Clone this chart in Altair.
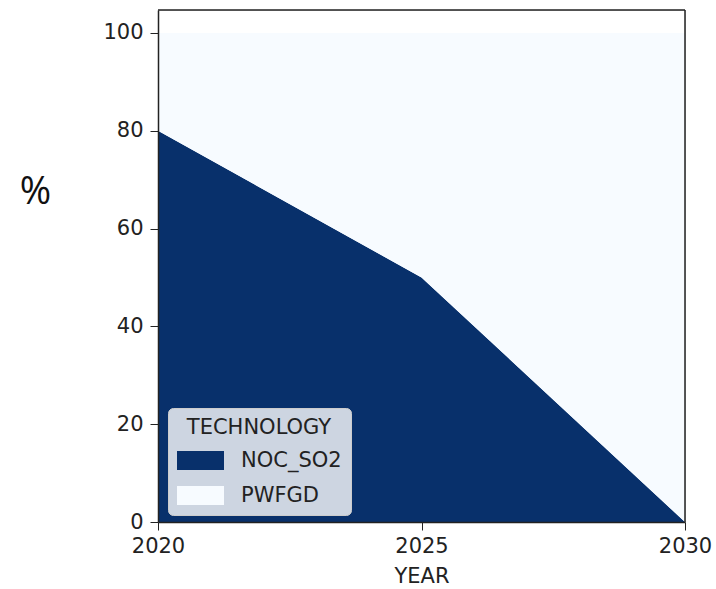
import altair as alt
import pandas as pd

# Share of each SO2 control technology by year
years = [2020, 2025, 2030]
noc_so2 = [80, 50, 0]
pwfgd = [20, 50, 100]
technologies = ["NOC_SO2", "PWFGD"]
colors = ["#08306b", "#f7fbff"]

rows = []
for i, y in enumerate(years):
    rows.append({"YEAR": y, "TECHNOLOGY": "NOC_SO2", "share": noc_so2[i], "ord": 0})
    rows.append({"YEAR": y, "TECHNOLOGY": "PWFGD", "share": pwfgd[i], "ord": 1})
df = pd.DataFrame(rows)

font = "DejaVu Sans"

area = alt.Chart(df).mark_area(interpolate="linear").encode(
    x=alt.X(
        "YEAR:Q",
        scale=alt.Scale(domain=[2020, 2030], nice=False, zero=False),
        axis=alt.Axis(
            values=[2020, 2025, 2030], format="d", title="YEAR",
            labelFontSize=21, titleFontSize=21, titleFontWeight="normal",
            labelFont=font, titleFont=font, labelColor="#222", titleColor="#222",
            tickSize=8, tickColor="#222", domainColor="#222", domainWidth=1.5,
            labelPadding=5, titlePadding=9, grid=False, zindex=1,
            labelFlush=False, labelOverlap=False,
        ),
    ),
    y=alt.Y(
        "share:Q",
        stack="zero",
        scale=alt.Scale(domain=[0, 104.7], nice=False),
        axis=alt.Axis(
            values=[0, 20, 40, 60, 80, 100], title="%",
            labelFontSize=21, labelFont=font, labelColor="#222",
            titleFontSize=38, titleFont="Open Sans", titleFontWeight="normal",
            titleColor="#111", titleAngle=0, titleX=-123, titleY=182,
            titleAlign="center", titleBaseline="middle",
            tickSize=8, tickColor="#222", domainColor="#222", domainWidth=1.5,
            labelPadding=7, grid=False, zindex=1,
        ),
    ),
    color=alt.Color(
        "TECHNOLOGY:N",
        scale=alt.Scale(domain=technologies, range=colors),
        legend=alt.Legend(
            orient="none", legendX=10, legendY=398,
            title="TECHNOLOGY", titleFontSize=21, titleFontWeight="normal",
            titleFont=font, titleColor="#222", titleAnchor="middle",
            labelFontSize=21, labelFont=font, labelColor="#222",
            symbolType="M-2.35,-0.95H2.35V0.95H-2.35Z", symbolSize=400,
            symbolStrokeWidth=0, symbolOpacity=1, symbolOffset=13,
            fillColor="rgba(255,255,255,0.8)", strokeColor="#cccccc",
            cornerRadius=5, padding=9, rowPadding=13, labelOffset=30,
            titlePadding=12,
        ),
    ),
    order=alt.Order("ord:Q", sort="ascending"),
)

# Frame lines on top and right edges of the plot
frame = alt.Chart(pd.DataFrame({"x": [0]})).mark_rule(color="#222", strokeWidth=1.5).encode(
    x=alt.value(0), x2=alt.value(527), y=alt.value(0)
)
frame_r = alt.Chart(pd.DataFrame({"x": [0]})).mark_rule(color="#222", strokeWidth=1.5).encode(
    x=alt.value(527), y=alt.value(0), y2=alt.value(512)
)

chart = alt.layer(area, frame, frame_r).properties(
    width=527, height=512,
    autosize=alt.AutoSizeParams(type="none"),
    padding={"left": 158, "top": 10, "right": 31, "bottom": 67},
).configure_view(stroke=None).configure(background="white")

chart.save("out.html", embed_options={"renderer": "svg", "actions": False})
